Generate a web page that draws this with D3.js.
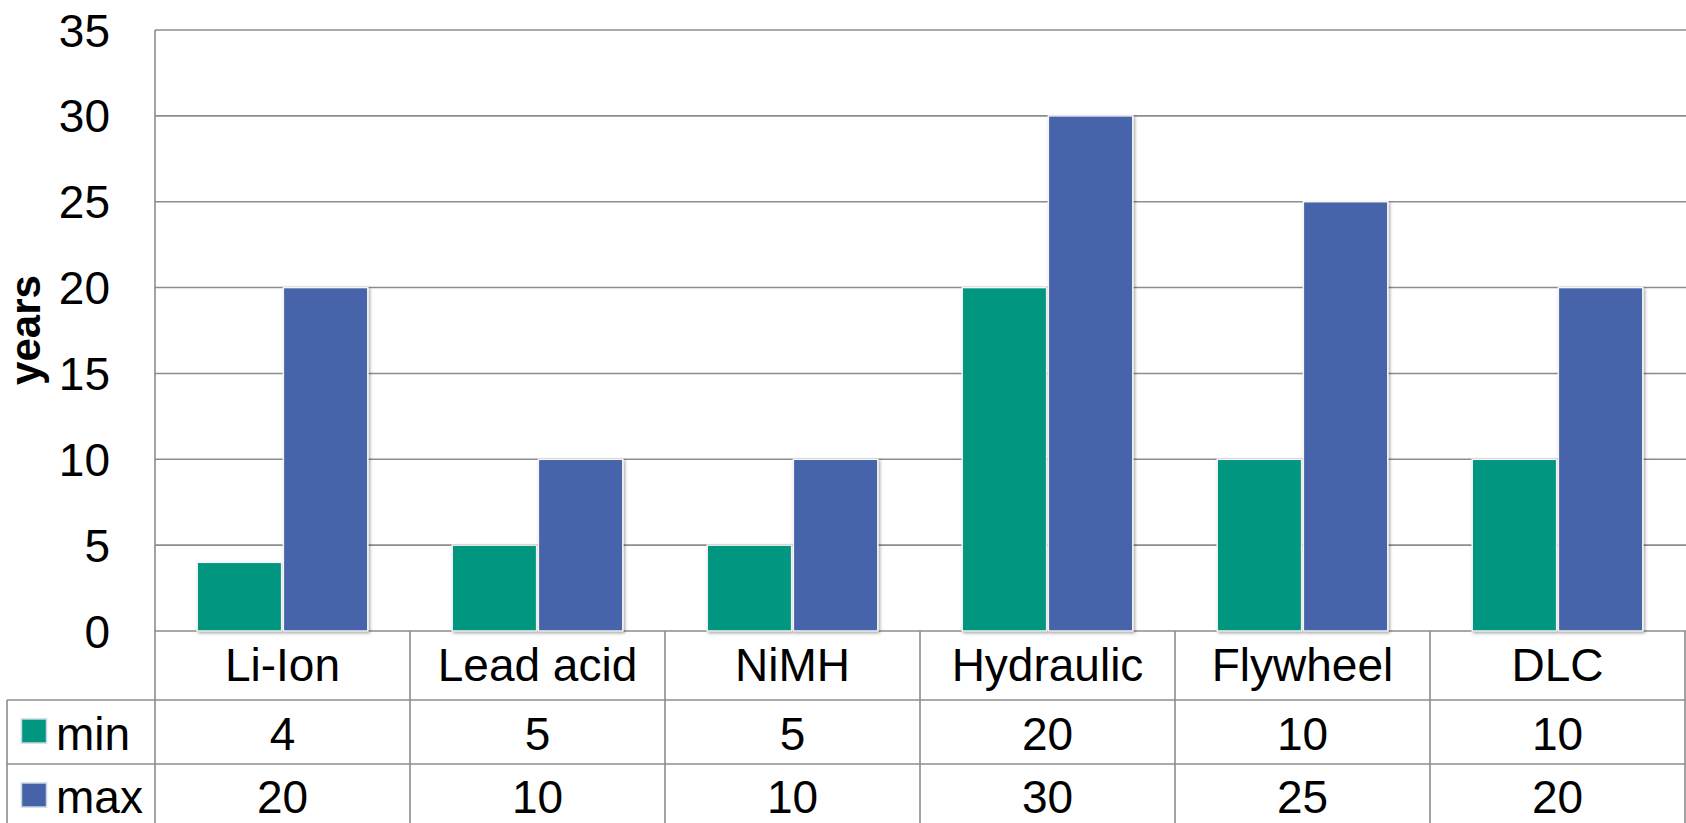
<!DOCTYPE html>
<html><head><meta charset="utf-8">
<script src="https://cdn.jsdelivr.net/npm/d3@7"></script>
<style>html,body{margin:0;padding:0;background:#fff;}svg{display:block;}</style>
</head><body>
<script>
const categories = ["Li-Ion","Lead acid","NiMH","Hydraulic","Flywheel","DLC"];
const seriesNames = ["min","max"];
const minValues = [4,5,5,20,10,10];
const maxValues = [20,10,10,30,25,20];
const yTicks = [0,5,10,15,20,25,30,35];
const colors = {min:"#009680", max:"#4663AA"};
const yLabel = "years";

(function(){
const W=1686,H=823;
const svg=d3.select("body").append("svg").attr("width",W).attr("height",H);
const defs=svg.append("defs");
const f=defs.append("filter").attr("id","sh").attr("x","-10%").attr("y","-10%").attr("width","130%").attr("height","130%");
f.append("feDropShadow").attr("dx",1.5).attr("dy",1.5).attr("stdDeviation",1.5).attr("flood-color","#000").attr("flood-opacity",0.35);

const pL=155,pR=1686,pT=30,pB=631;
const x=d3.scaleBand().domain(categories).range([pL,pL+6*255]).paddingInner(0).paddingOuter(0);
const y=d3.scaleLinear().domain([0,35]).range([pB,pT]);
const xs=d3.scaleBand().domain(seriesNames).range([0,x.bandwidth()]).paddingInner(0.02).paddingOuter(0.49);

const font="'Liberation Sans', Arial, sans-serif";
const gridC="#8c8c8c";

svg.append("g").selectAll("line").data(yTicks).join("line")
 .attr("x1",pL).attr("x2",pR).attr("y1",d=>y(d)).attr("y2",d=>y(d))
 .attr("stroke",gridC).attr("stroke-width",1.6);
svg.append("line").attr("x1",pL).attr("x2",pL).attr("y1",pT).attr("y2",H).attr("stroke",gridC).attr("stroke-width",1.6);

const yAxis=d3.axisLeft(y).tickValues(yTicks).tickSize(0).tickPadding(0);
const ga=svg.append("g").attr("transform",`translate(110,0)`).call(yAxis);
ga.select(".domain").remove();
ga.selectAll("text").attr("font-family",font).attr("font-size",46).attr("fill","#000").attr("dy","0.35em").attr("x",0);

svg.append("text").attr("transform","translate(40,330) rotate(-90)").attr("text-anchor","middle")
 .attr("font-family",font).attr("font-size",42).attr("font-weight","bold").text(yLabel);

const data=categories.map((c,i)=>({c,min:minValues[i],max:maxValues[i]}));
const gb=svg.append("g");
data.forEach(d=>{
  seriesNames.forEach(s=>{
    gb.append("rect").attr("x",x(d.c)+xs(s)).attr("width",xs.bandwidth())
      .attr("y",y(d[s])).attr("height",y(0)-y(d[s]))
      .attr("fill",colors[s]).attr("stroke","#f4f4f4").attr("stroke-width",1.5)
      .attr("filter","url(#sh)");
  });
});

const tg=svg.append("g");
categories.forEach((c,i)=>{
  tg.append("line").attr("x1",x(c)+x.bandwidth()).attr("x2",x(c)+x.bandwidth()).attr("y1",631).attr("y2",H).attr("stroke",gridC).attr("stroke-width",1.6);
});
tg.append("line").attr("x1",7).attr("x2",7).attr("y1",700).attr("y2",H).attr("stroke",gridC).attr("stroke-width",1.6);
[700,764].forEach(v=>tg.append("line").attr("x1",7).attr("x2",pR).attr("y1",v).attr("y2",v).attr("stroke",gridC).attr("stroke-width",1.6));

tg.selectAll("text.cat").data(categories).join("text").attr("class","cat")
 .attr("x",d=>x(d)+x.bandwidth()/2).attr("y",681).attr("text-anchor","middle")
 .attr("font-family",font).attr("font-size",46).text(d=>d);
tg.selectAll("text.vmin").data(data).join("text").attr("class","vmin")
 .attr("x",d=>x(d.c)+x.bandwidth()/2).attr("y",750).attr("text-anchor","middle")
 .attr("font-family",font).attr("font-size",46).text(d=>d.min);
tg.selectAll("text.vmax").data(data).join("text").attr("class","vmax")
 .attr("x",d=>x(d.c)+x.bandwidth()/2).attr("y",813).attr("text-anchor","middle")
 .attr("font-family",font).attr("font-size",46).text(d=>d.max);

const rowsLegend=[{s:"min",y0:719,ty:750},{s:"max",y0:783,ty:813}];
rowsLegend.forEach(r=>{
  tg.append("rect").attr("x",21.5).attr("y",r.y0).attr("width",25).attr("height",24)
    .attr("fill",colors[r.s]).attr("stroke","#c8d8e0").attr("stroke-width",1.5);
  tg.append("text").attr("x",56).attr("y",r.ty).attr("font-family",font).attr("font-size",46).text(r.s);
});
})();
</script>
</body></html>
